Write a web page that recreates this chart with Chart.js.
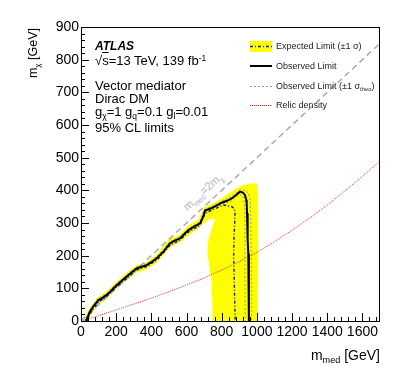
<!DOCTYPE html>
<html>
<head>
<meta charset="utf-8">
<script src="https://cdn.jsdelivr.net/npm/chart.js@4"></script>
<style>
  body { margin: 0; background: #fff; font-family: 'Liberation Sans', Arial, sans-serif; }
  #wrap { position: relative; width: 409px; height: 382px; }
  .t { position: absolute; white-space: nowrap; line-height: 1; color: #000; }
  .t sub { font-size: 65%; vertical-align: -0.35em; line-height: 0; }
  .t sup { font-size: 65%; vertical-align: 0.45em; line-height: 0; }
  .lg { font-size: 9px; color: #222; left: 276px; }
</style>
</head>
<body>
<div id="wrap">
  <canvas id="chart" width="409" height="382"></canvas>

  <!-- axis titles -->
  <div class="t" style="font-size:14px; right:29px; top:348px;">m<sub>med</sub> [GeV]</div>
  <div class="t" style="font-size:12.5px; left:27px; top:148px; width:120px; text-align:right; transform-origin:0 0; transform:rotate(-90deg);">m<sub>χ</sub> [GeV]</div>

  <!-- ATLAS label -->
  <div class="t" style="font-size:12px; font-weight:bold; font-style:italic; left:95px; top:40px;">ATLAS</div>
  <div class="t" style="font-size:13px; left:95px; top:54px;">√<span style="text-decoration:overline">s</span>=13 TeV, 139 fb<sup>-1</sup></div>
  <div class="t" style="font-size:13px; left:95px; top:79px;">Vector mediator</div>
  <div class="t" style="font-size:13px; left:95px; top:92px;">Dirac DM</div>
  <div class="t" style="font-size:13px; left:95px; top:105px;">g<sub>χ</sub>=1 g<sub>q</sub>=0.1 g<sub>l</sub>=0.01</div>
  <div class="t" style="font-size:13px; left:95px; top:121px;">95% CL limits</div>

  <!-- legend -->
  <div class="t lg" style="top:42px;">Expected Limit (±1 σ)</div>
  <div class="t lg" style="top:62px;">Observed Limit</div>
  <div class="t lg" style="top:82px;">Observed Limit (±1 σ<sub>theo</sub>)</div>
  <div class="t lg" style="top:101px;">Relic density</div>

  <!-- diagonal label -->
  <div class="t" style="font-size:11px; color:#aaa; left:203px; top:192px; transform:translate(-50%,-50%) rotate(-43deg);">m<sub>med</sub>=2m<sub>χ</sub></div>
</div>

<script>
// m_med = 2 m_chi kinematic line
const diagX = [0, 1700];
const diagY = [0, 850];

// relic density curve
const relicX = [0, 100, 200, 300, 400, 500, 600, 700, 800, 900, 1000, 1100, 1200, 1300, 1400, 1500, 1600, 1700];
const relicY = [0, 16, 34, 52, 70, 90, 110, 132, 156, 182, 210, 243, 278, 315, 355, 398, 443, 490];

// observed limit contour
const obsX = [28, 40, 51, 70, 99, 120, 146, 170, 193, 225, 260, 290, 316, 345, 373, 400, 430, 470, 506, 535, 563, 590, 610, 640, 677, 695, 705, 740, 770, 800, 830, 857, 880, 904, 920, 932, 940, 942, 944, 946, 949, 951, 953, 955, 955, 955];
const obsY = [0, 15, 29, 45, 64, 70, 80, 92, 105, 120, 136, 150, 161, 166, 171, 180, 192, 213, 238, 247, 253, 268, 278, 288, 299, 320, 338, 345, 353, 362, 368, 375, 385, 396, 393, 386, 370, 360, 330, 309, 250, 207, 150, 105, 50, 0];

// observed +/- 1 sigma theory
const theoUpX = [22, 45, 95, 146, 193, 260, 316, 373, 430, 506, 563, 610, 677, 700, 800, 857, 904, 930, 952, 962, 966, 968, 970, 970];
const theoUpY = [0, 28, 68, 85, 110, 141, 166, 176, 197, 243, 258, 283, 304, 340, 367, 381, 402, 400, 392, 370, 300, 200, 100, 0];
const theoDnX = [34, 55, 99, 146, 193, 260, 316, 373, 430, 506, 563, 610, 677, 710, 800, 857, 900, 915, 925, 930, 932, 932, 933, 933];
const theoDnY = [0, 27, 58, 75, 100, 131, 156, 166, 187, 233, 248, 273, 294, 333, 356, 368, 388, 385, 375, 350, 300, 200, 100, 0];

// expected limit contour
const expX = [35, 55, 99, 146, 193, 260, 316, 373, 430, 506, 563, 610, 677, 705, 760, 809, 857, 870, 876, 874, 870, 868, 870, 873, 876, 877];
const expY = [0, 25, 58, 75, 100, 130, 156, 167, 186, 232, 248, 272, 293, 330, 343, 355, 350, 345, 335, 300, 258, 200, 156, 80, 13, 0];

// expected +/- 1 sigma band outline (closed)
const bandX = [15, 40, 92, 140, 190, 255, 312, 370, 428, 500, 560, 605, 670, 700, 760, 800, 860, 900, 940, 990, 1003, 1008, 1008, 1006,
  747, 747, 742, 728, 718, 725, 745, 762,
  730, 700, 670, 610, 560, 505, 430, 372, 315, 258, 190, 145, 95, 55, 42];
const bandY = [0, 32, 72, 88, 114, 146, 170, 180, 202, 250, 264, 290, 312, 348, 362, 376, 398, 412, 418, 422, 415, 380, 200, 0,
  0, 55, 120, 170, 215, 250, 285, 312,
  312, 300, 285, 262, 240, 225, 178, 158, 148, 124, 92, 68, 48, 18, 0];

const pts = (xs, ys) => xs.map((x, i) => ({x: x, y: ys[i]}));

const expColor = '#1f2a8c';
const relicColor = '#e8322e';

const frameAndTicks = {
  id: 'frameAndTicks',
  afterDatasetsDraw(chart) {
    const {ctx, chartArea: a, scales: {x, y}} = chart;
    ctx.save();
    ctx.strokeStyle = '#000';
    ctx.lineWidth = 1;
    ctx.beginPath();
    for (let v = x.min; v <= x.max; v += 40) {
      const px = Math.round(x.getPixelForValue(v)) + 0.5;
      const len = v % 200 === 0 ? 8 : 4;
      ctx.moveTo(px, a.bottom);
      ctx.lineTo(px, a.bottom - len);
    }
    for (let v = y.min; v <= y.max; v += 20) {
      const py = Math.round(y.getPixelForValue(v)) + 0.5;
      const len = v % 100 === 0 ? 8 : 4;
      ctx.moveTo(a.left, py);
      ctx.lineTo(a.left + len, py);
    }
    ctx.stroke();
    ctx.strokeRect(a.left + 0.5, a.top + 0.5, a.right - a.left - 1, a.bottom - a.top);

    // legend samples
    const lx = 250, lw = 22;
    ctx.fillStyle = '#ffff00';
    ctx.fillRect(lx, 41, lw, 11);
    const sample = (yy, color, width, dash) => {
      ctx.beginPath();
      ctx.strokeStyle = color;
      ctx.lineWidth = width;
      ctx.setLineDash(dash);
      ctx.moveTo(lx, yy);
      ctx.lineTo(lx + lw, yy);
      ctx.stroke();
    };
    sample(46.5, expColor, 1.5, [3, 2, 1, 2]);
    sample(66, '#000', 2, []);
    sample(86.5, '#999', 1, [2, 2]);
    sample(105.5, relicColor, 1, [1, 1]);
    ctx.restore();
  }
};

new Chart(document.getElementById('chart'), {
  type: 'scatter',
  data: {
    datasets: [{
      label: 'band',
      data: pts(bandX, bandY),
      showLine: true,
      borderWidth: 0,
      borderColor: 'rgba(0,0,0,0)',
      backgroundColor: '#ffff00',
      fill: 'shape',
      pointRadius: 0,
      order: 10
    }, {
      label: 'Relic density',
      data: pts(relicX, relicY),
      showLine: true,
      borderColor: relicColor,
      borderWidth: 1,
      borderDash: [1, 1],
      pointRadius: 0,
      order: 6
    }, {
      label: 'diag',
      data: pts(diagX, diagY),
      showLine: true,
      borderColor: '#aaa',
      borderWidth: 1.5,
      borderDash: [6, 4],
      pointRadius: 0,
      order: 5
    }, {
      label: 'theo up',
      data: pts(theoUpX, theoUpY),
      showLine: true,
      borderColor: '#999',
      borderWidth: 1,
      borderDash: [2, 2],
      pointRadius: 0,
      order: 4
    }, {
      label: 'theo down',
      data: pts(theoDnX, theoDnY),
      showLine: true,
      borderColor: '#999',
      borderWidth: 1,
      borderDash: [2, 2],
      pointRadius: 0,
      order: 4
    }, {
      label: 'Expected Limit',
      data: pts(expX, expY),
      showLine: true,
      borderColor: expColor,
      borderWidth: 1.5,
      borderDash: [3, 2, 1, 2],
      pointRadius: 0,
      order: 3
    }, {
      label: 'Observed Limit',
      data: pts(obsX, obsY),
      showLine: true,
      borderColor: '#000',
      borderWidth: 2,
      pointRadius: 0,
      order: 1
    }]
  },
  options: {
    responsive: false,
    animation: false,
    layout: { padding: { left: 0, right: 29, top: 27, bottom: 0 } },
    plugins: { legend: { display: false }, tooltip: { enabled: false } },
    scales: {
      x: {
        type: 'linear',
        min: 0,
        max: 1700,
        afterFit: s => { s.height = 61; },
        grid: { display: false, drawTicks: false },
        border: { display: false },
        ticks: {
          stepSize: 200,
          includeBounds: false,
          maxRotation: 0,
          autoSkip: false,
          padding: 3,
          color: '#000',
          font: { family: 'Liberation Sans', size: 14 },
          callback: v => String(v)
        }
      },
      y: {
        type: 'linear',
        min: 0,
        max: 900,
        afterFit: s => { s.width = 81; },
        grid: { display: false, drawTicks: false },
        border: { display: false },
        ticks: {
          stepSize: 100,
          padding: 2,
          color: '#000',
          font: { family: 'Liberation Sans', size: 14 },
          callback: v => String(v)
        }
      }
    }
  },
  plugins: [frameAndTicks]
});
</script>
</body>
</html>
